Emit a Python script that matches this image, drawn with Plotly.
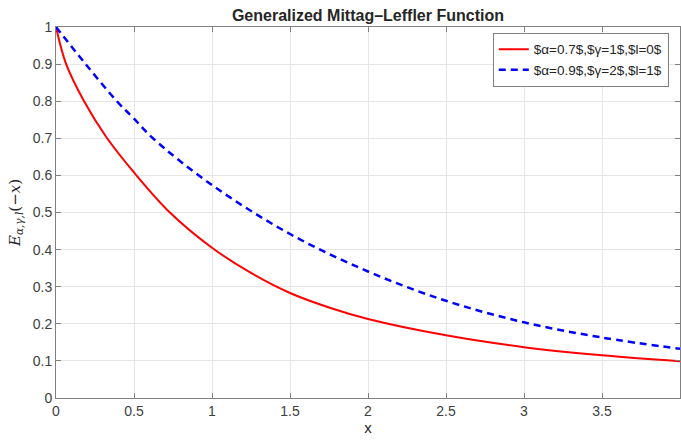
import plotly.graph_objects as go

# Data
x_red = [0, 0.065, 0.18, 0.32, 0.5, 0.73, 1.0, 1.25, 1.5, 1.75, 2.0, 2.5, 3.0, 3.5, 4.0]
y_red = [1.0, 0.9, 0.8, 0.705, 0.608, 0.5, 0.405, 0.337, 0.283, 0.244, 0.213, 0.169, 0.137, 0.115, 0.099]

x_blue = [0, 0.19, 0.39, 0.5, 0.621, 1.0, 1.5, 2.0, 2.5, 3.0, 3.5, 4.0]
y_blue = [1.0, 0.9, 0.8, 0.753, 0.7, 0.574, 0.442, 0.341, 0.262, 0.204, 0.163, 0.1325]

name_red = "$α=0.7$,$γ=1$,$l=0$"
name_blue = "$α=0.9$,$γ=2$,$l=1$"

fig = go.Figure()
fig.add_trace(go.Scatter(x=x_red, y=y_red, mode="lines", name=name_red,
                         line=dict(color="#ff0000", width=2, shape="spline", smoothing=1.0)))
fig.add_trace(go.Scatter(x=x_blue, y=y_blue, mode="lines", name=name_blue,
                         line=dict(color="#0000ff", width=2.5, dash="7px,5px", shape="spline", smoothing=1.0)))

axis_common = dict(showline=True, linecolor="#808080", linewidth=1, mirror="ticks",
                   ticks="inside", ticklen=5, tickcolor="#808080",
                   showgrid=True, gridcolor="#e6e6e6", gridwidth=1, zeroline=False,
                   tickfont=dict(family="Liberation Sans, Arial", size=14, color="#404040"))

fig.update_layout(
    width=681, height=441,
    margin=dict(l=56, r=1, t=27, b=43),
    paper_bgcolor="white", plot_bgcolor="white",
    title=dict(text="<b>Generalized Mittag–Leffler Function</b>", x=0.5403, xanchor="center",
               y=0.966, yanchor="middle",
               font=dict(family="Liberation Sans, Arial", size=16, color="#262626")),
    xaxis=dict(range=[0, 4], dtick=0.5, tick0=0,
               title=dict(text="x", standoff=2, font=dict(family="Liberation Sans, Arial", size=15, color="#262626")),
               **axis_common),
    yaxis=dict(range=[0, 1], dtick=0.1, tick0=0,
               title=dict(text="<i>E</i><sub><i>α,γ,l</i></sub>(−<i>x</i>)", standoff=8,
                          font=dict(family="DejaVu Serif, Liberation Serif", size=15, color="#262626")),
               **axis_common),
    legend=dict(x=0.982, y=0.984, xanchor="right", yanchor="top",
                bgcolor="white", bordercolor="#808080", borderwidth=1,
                font=dict(family="Liberation Sans, Arial", size=13.5, color="#262626"),
                tracegroupgap=0),
    showlegend=True,
)

fig.write_html("out.html", config={"displayModeBar": False},
               post_script="document.body.style.margin='0';document.documentElement.style.overflow='hidden';")
